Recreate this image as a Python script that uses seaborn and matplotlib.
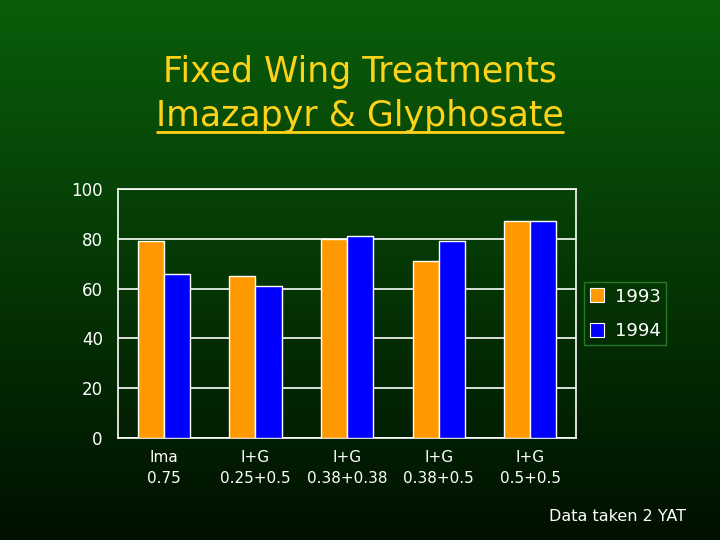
import numpy as np
import pandas as pd
import seaborn as sns
import matplotlib.pyplot as plt
from matplotlib.colors import LinearSegmentedColormap
from matplotlib.lines import Line2D

# Data
treatments = ["Ima\n0.75", "I+G\n0.25+0.5", "I+G\n0.38+0.38", "I+G\n0.38+0.5", "I+G\n0.5+0.5"]
years = ["1993", "1994"]
vals_1993 = [79, 65, 80, 71, 87]
vals_1994 = [66, 61, 81, 79, 87]
yticks = [0, 20, 40, 60, 80, 100]

df = pd.DataFrame({
    "treatment": treatments * 2,
    "year": [years[0]] * len(treatments) + [years[1]] * len(treatments),
    "value": vals_1993 + vals_1994,
})

sns.set_style("white")
plt.rcParams["font.family"] = ["DejaVu Sans"]

fig = plt.figure(figsize=(7.2, 5.4), dpi=100)

# Green-to-black gradient background
bg = fig.add_axes([0, 0, 1, 1], zorder=-10)
cmap = LinearSegmentedColormap.from_list("slide", ["#0a5e0a", "#001000"])
grad = np.linspace(0, 1, 256).reshape(-1, 1)
bg.imshow(grad, aspect="auto", cmap=cmap, extent=[0, 1, 0, 1])
bg.axis("off")

ax = fig.add_axes([0.164, 0.189, 0.636, 0.461])
ax.patch.set_alpha(0)
sns.barplot(data=df, x="treatment", y="value", hue="year",
            palette={"1993": "#ff9900", "1994": "#0000ff"},
            width=0.57, edgecolor="white", linewidth=1.0,
            saturation=1, legend=False, ax=ax, zorder=3)

ax.set_ylim(0, 100)
ax.set_xlim(-0.5, len(treatments) - 0.5)
ax.set_yticks(yticks)
ax.yaxis.grid(True, color="white", linewidth=1.2, zorder=0)
ax.set_axisbelow(True)
ax.set_xlabel("")
ax.set_ylabel("")

for s in ax.spines.values():
    s.set_color("white")
    s.set_linewidth(1.2)
    s.set_visible(True)

ax.tick_params(axis="y", colors="white", labelsize=12, length=8, width=1.2, direction="out", pad=3)
ax.tick_params(axis="x", which="major", colors="white", labelsize=11, length=0, pad=9)
ax.set_xticks(np.arange(-0.5, len(treatments)), minor=True)
ax.tick_params(axis="x", which="minor", colors="white", length=8, width=1.2, direction="out")
for lbl in ax.get_xticklabels():
    lbl.set_linespacing(1.45)

# Legend
handles = [Line2D([], [], marker="s", linestyle="", markersize=10,
                  markerfacecolor=c, markeredgecolor="white", markeredgewidth=0.8)
           for c in ["#ff9900", "#0000ff"]]
leg = ax.legend(handles, years, loc="center left", bbox_to_anchor=(0.811, 0.419),
                bbox_transform=fig.transFigure, frameon=True, fontsize=13,
                labelcolor="white", handlelength=0.8, handletextpad=0.6,
                labelspacing=0.9, borderpad=0.3, borderaxespad=0, fancybox=False)
leg.get_frame().set_facecolor("none")
leg.get_frame().set_edgecolor("#2e8b2e")

# Title
fig.text(0.5, 0.866, "Fixed Wing Treatments", ha="center", va="center",
         color="#ffd21a", fontsize=25)
fig.text(0.5, 0.786, "Imazapyr & Glyphosate", ha="center", va="center",
         color="#ffd21a", fontsize=25)
fig.add_artist(Line2D([0.218, 0.782], [0.756, 0.756], color="#ffd21a",
                      linewidth=2, transform=fig.transFigure))

fig.text(0.953, 0.043, "Data taken 2 YAT", ha="right", va="center",
         color="white", fontsize=11.5)

fig.savefig("out.png", dpi=100)
